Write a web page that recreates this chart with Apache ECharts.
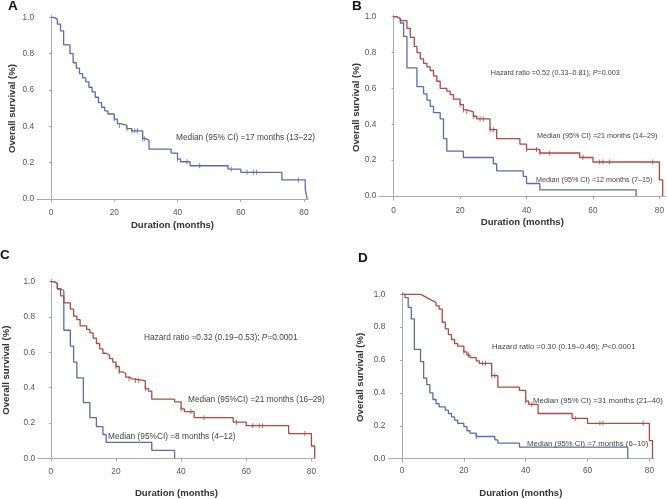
<!DOCTYPE html>
<html><head><meta charset="utf-8">
<script src="https://cdn.jsdelivr.net/npm/echarts@6/dist/echarts.min.js"></script>
<style>html,body{margin:0;padding:0;background:#fff}#c{width:667px;height:499px}</style>
</head><body><div id="c"></div>
<script>
// ---- Data (Kaplan–Meier steps: [month, survival]) ----
var xTicks = [0, 20, 40, 60, 80];
var yTicks = [0, 0.2, 0.4, 0.6, 0.8, 1.0];

var aAll = [[0,1],[1,0.99],[2,0.963],[3,0.925],[4,0.848],[6,0.80],[7,0.75],[8,0.72],[9,0.69],[10,0.667],[11,0.645],[12,0.615],[13,0.59],[14,0.56],[15,0.53],[16,0.505],[17,0.485],[18,0.468],[20,0.44],[21,0.415],[22,0.405],[24,0.387],[25.5,0.375],[29,0.332],[30,0.323],[31,0.275],[38,0.253],[40,0.22],[41,0.205],[44,0.183],[56,0.165],[60,0.147],[73,0.105],[80.4,0.055],[81,0]];
var aCens = [[20,0.44],[21.6,0.405],[24,0.387],[25.6,0.375],[26.5,0.375],[27.3,0.375],[29,0.332],[29.6,0.332],[40,0.22],[43,0.205],[47,0.183],[57,0.165],[62,0.147],[64,0.147],[65,0.147],[78.2,0.105]];

var bBlue = [[0,1],[1,0.99],[2,0.965],[3,0.89],[4,0.715],[7,0.61],[9,0.57],[10,0.535],[11,0.50],[12,0.465],[14,0.43],[15,0.32],[16,0.25],[21,0.215],[30,0.18],[31,0.14],[39,0.11],[40,0.07],[44,0.035],[73,0]];
var bRed = [[0,1],[1,0.99],[2,0.978],[4,0.935],[5,0.885],[6.2,0.835],[7,0.80],[8,0.765],[9,0.74],[10,0.72],[11,0.70],[12,0.67],[13,0.64],[14,0.60],[16,0.585],[17,0.565],[18,0.54],[20,0.51],[21,0.48],[22,0.47],[24,0.445],[25,0.43],[29,0.37],[31,0.32],[38,0.29],[40,0.26],[44,0.24],[56,0.215],[60,0.19],[80,0.09],[81,0]];
var bRedCens = [[20,0.51],[21,0.48],[22,0.47],[24,0.445],[26,0.43],[27,0.43],[29,0.37],[30,0.37],[40,0.26],[43,0.26],[44,0.24],[47,0.24],[57,0.215],[62,0.19],[63,0.19],[65,0.19],[78,0.19]];

var cBlue = [[0,1],[1,0.99],[2,0.96],[3,0.95],[4,0.725],[6,0.635],[7,0.545],[8,0.455],[10,0.315],[12,0.23],[14,0.18],[16,0.135],[17,0.09],[31,0.045],[38,0]];
var cRed = [[0,1],[1,0.99],[2,0.96],[3,0.92],[4,0.88],[6,0.845],[7,0.805],[8,0.785],[9,0.75],[11,0.73],[12,0.71],[13,0.68],[14,0.65],[15,0.62],[16,0.595],[17,0.585],[18,0.565],[19,0.545],[20,0.52],[21,0.49],[22,0.48],[23,0.46],[24,0.45],[25,0.44],[29,0.395],[30,0.38],[31,0.335],[38,0.32],[40,0.28],[41,0.265],[44,0.23],[56,0.205],[60,0.185],[73,0.14],[80,0.07],[81,0]];
var cRedCens = [[20,0.52],[21,0.49],[24,0.45],[26,0.44],[27,0.44],[29,0.395],[40,0.28],[43,0.265],[47,0.23],[57,0.205],[62,0.185],[64,0.185],[65,0.185],[78,0.14]];

var dBlue = [[0,1],[1,0.98],[2,0.92],[3,0.85],[4,0.665],[6,0.59],[7,0.49],[8,0.45],[9,0.40],[10,0.36],[11,0.335],[12,0.315],[14,0.295],[15,0.275],[16,0.255],[17,0.235],[18,0.215],[20,0.195],[21,0.17],[22,0.155],[24,0.135],[30,0.115],[31,0.095],[38,0.07],[73,0]];
var dBlueCens = [[24,0.135]];
var dRed = [[0,1],[6,0.99],[7,0.98],[8,0.97],[9,0.96],[10,0.95],[11,0.93],[12,0.91],[13,0.83],[14,0.79],[15,0.755],[16,0.725],[17,0.70],[18,0.685],[20,0.65],[21,0.63],[22,0.615],[24,0.595],[25,0.58],[29,0.505],[31,0.435],[38,0.415],[40,0.35],[41,0.33],[44,0.275],[55,0.245],[60,0.215],[80,0.11],[81,0]];
var dRedCens = [[20,0.65],[21.5,0.63],[26,0.58],[27,0.58],[29,0.505],[30,0.505],[40,0.35],[42,0.33],[56,0.245],[64,0.215],[65,0.215],[78,0.215]];

// ---- Styling ----
var BLUE = '#5b6ca8', RED = '#ad4a45';
var FONT = 'Liberation Sans, Arial, sans-serif';
var grids = [
  {left:37, top:15, width:271, height:187},
  {left:379.3, top:15, width:286.7, height:185},
  {left:34, top:279.3, width:281, height:182.4},
  {left:388.3, top:292.7, width:265, height:171.6}
];
var xr = [[-4.43,81.27],[-4.33,81.8],[-3.93,81.1],[-4.43,81.26]];
var yr = [[-0.0165,1.0128],[-0.022,1.0095],[-0.015,1.0135],[-0.02,1.0096]];
var xGap = [18,17,27,26], yGap = [20,16,27,23], xMargin=[7,7,7,5];

function xAx(i){return {gridIndex:i,type:'value',min:xr[i][0],max:xr[i][1],
  name:'Duration (months)',nameLocation:'middle',nameGap:xGap[i],
  nameTextStyle:{fontFamily:FONT,fontWeight:'bold',fontSize:9.6,color:'#333'},
  axisLine:{show:true,lineStyle:{color:'#aaa',width:1}},
  axisTick:{show:true,length:3,customValues:xTicks,lineStyle:{color:'#aaa'}},
  axisLabel:{customValues:xTicks,margin:xMargin[i],fontFamily:FONT,fontSize:8.3,color:'#555'},
  splitLine:{show:false}};}
function yAx(i){return {gridIndex:i,type:'value',min:yr[i][0],max:yr[i][1],
  name:'Overall survival (%)',nameLocation:'middle',nameGap:yGap[i],
  nameTextStyle:{fontFamily:FONT,fontWeight:'bold',fontSize:9.6,color:'#333'},
  axisLine:{show:true,lineStyle:{color:'#aaa',width:1}},
  axisTick:{show:true,length:2,customValues:yTicks,lineStyle:{color:'#aaa'}},
  axisLabel:{customValues:yTicks,margin:3,fontFamily:FONT,fontSize:8.3,color:'#555',formatter:function(v){return v.toFixed(1);}},
  splitLine:{show:false}};}
function line(i,data,color){return {type:'line',xAxisIndex:i,yAxisIndex:i,data:data,step:'end',
  showSymbol:false,symbol:'none',lineStyle:{color:color,width:1.3},silent:true,animation:false};}
function cens(i,data,color){return {type:'scatter',xAxisIndex:i,yAxisIndex:i,data:data,
  symbol:'rect',symbolSize:[1,5],itemStyle:{color:color},silent:true,animation:false};}

function txt(x,y,t,fs){return {type:'text',x:x,y:y,style:{text:t,font:fs+'px '+FONT,fill:'#444',verticalAlign:'middle'}};}
function hr(x,y,a,p,fs){return {type:'text',x:x,y:y,style:{text:'{n|'+a+'}{i|P}{n|'+p+'}',verticalAlign:'middle',
  rich:{n:{fontFamily:FONT,fontSize:fs,fill:'#444',color:'#444'},i:{fontFamily:FONT,fontSize:fs,fontStyle:'italic',fill:'#444',color:'#444'}}}};}
function letter(x,y,t){return {type:'text',x:x,y:y,style:{text:t,font:'bold 13.5px '+FONT,fill:'#111',verticalAlign:'top'}};}

var option = {
  backgroundColor:'#fff', animation:false,
  grid:grids,
  xAxis:[xAx(0),xAx(1),xAx(2),xAx(3)],
  yAxis:[yAx(0),yAx(1),yAx(2),yAx(3)],
  series:[
    line(0,aAll,BLUE), cens(0,aCens,BLUE),
    line(1,bBlue,BLUE), line(1,bRed,RED), cens(1,bRedCens,RED),
    line(2,cBlue,BLUE), line(2,cRed,RED), cens(2,cRedCens,RED),
    line(3,dBlue,BLUE), cens(3,dBlueCens,BLUE), line(3,dRed,RED), cens(3,dRedCens,RED)
  ],
  graphic:[
    letter(8,-1,'A'), letter(352,-1,'B'), letter(0,248,'C'), letter(358,251,'D'),
    txt(176,138,'Median (95% CI) =17 months (13–22)',8.3),
    hr(490.7,73,'Hazard ratio =0.52 (0.33–0.81); ','=0.003',7.2),
    txt(537,136,'Median (95% CI) =21 months (14–29)',7.2),
    txt(536,180,'Median (95% CI) =12 months (7–15)',7.2),
    hr(144,338,'Hazard ratio =0.32 (0.19–0.53); ','=0.0001',8.3),
    txt(188,400,'Median (95%CI) =21 months (16–29)',8.3),
    txt(108,437,'Median (95%CI) =8 months (4–12)',8.3),
    hr(492,347,'Hazard ratio =0.30 (0.19–0.46); ','<0.0001',7.75),
    txt(533,401,'Median (95% CI) =31 months (21–40)',7.75),
    txt(527,444,'Median (95% CI) =7 months (6–10)',7.75)
  ]
};
var chart = echarts.init(document.getElementById('c'), null, {renderer:'canvas'});
chart.setOption(option);
</script></body></html>
